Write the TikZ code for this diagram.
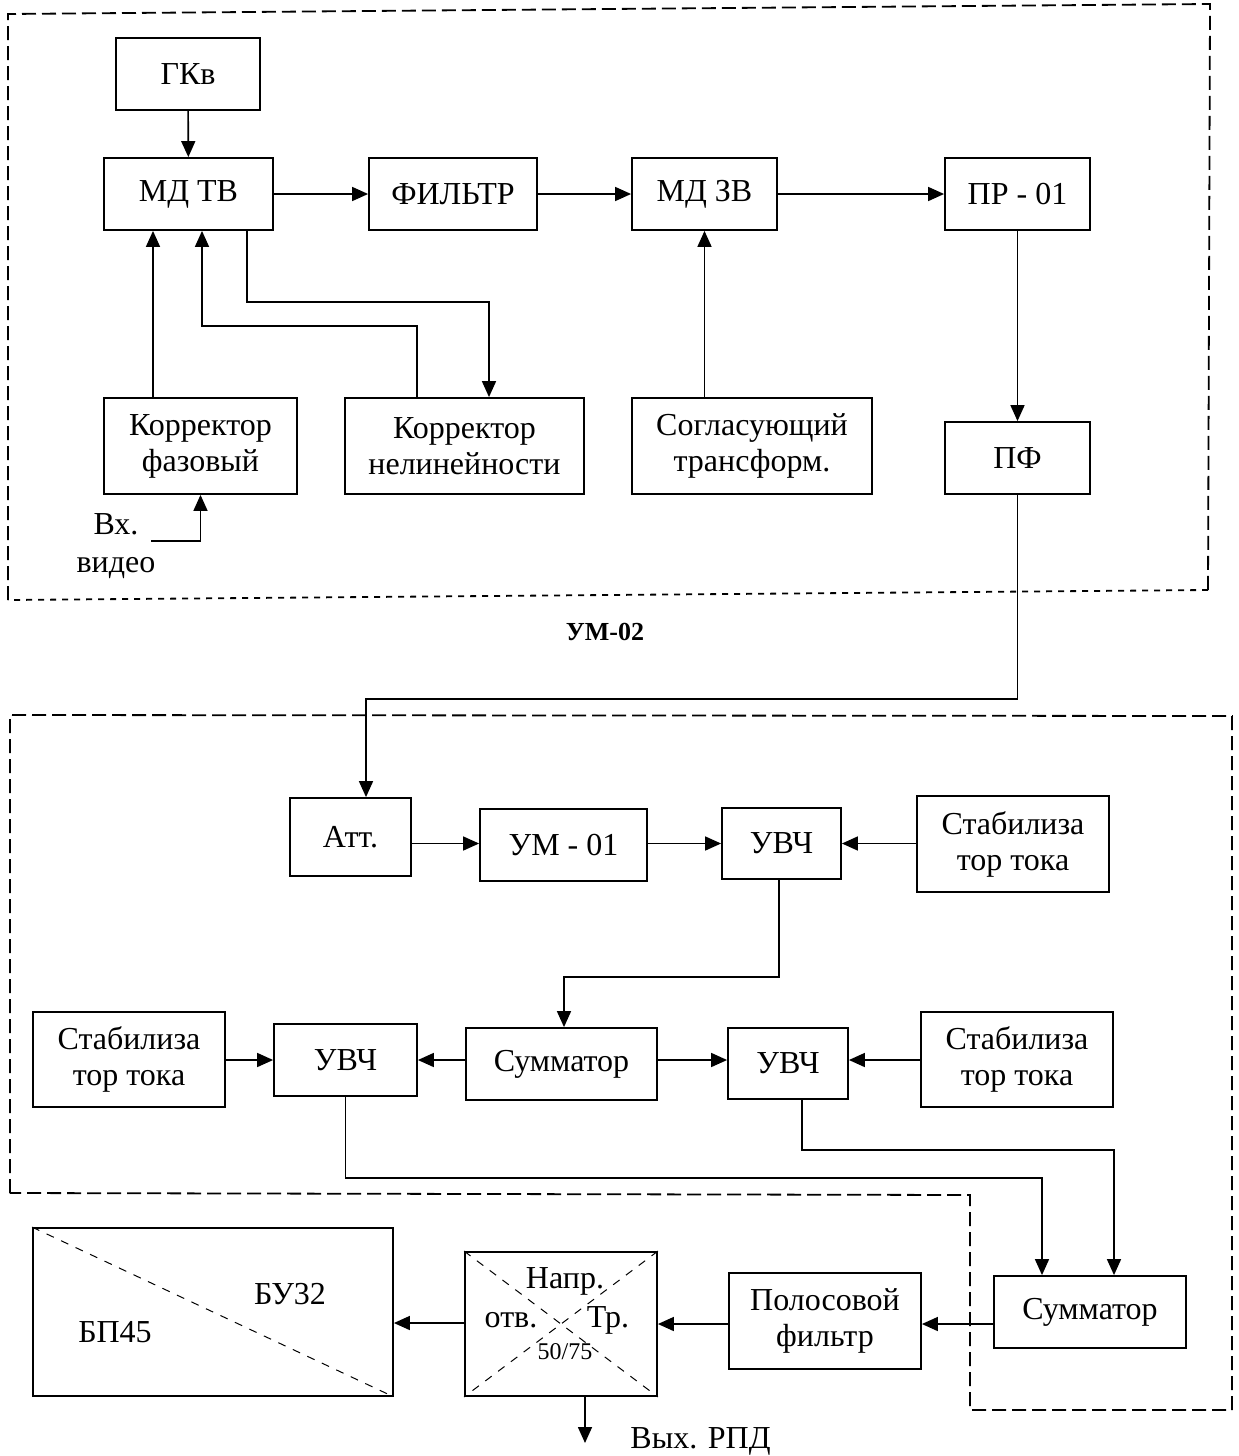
\documentclass[tikz,border=0pt]{standalone}
\usepackage{fontspec}
\setmainfont{Liberation Serif}
\usetikzlibrary{arrows.meta, positioning, calc}

\begin{document}
\begin{tikzpicture}[
    x=0.5pt, y=-0.5pt,
    font=\fontsize{16}{18}\selectfont,
    blk/.style={rectangle, draw=black, line width=0.9pt, align=center, inner sep=2pt,
      minimum width=72.5pt, minimum height=36pt},
    bigblk/.style={blk, minimum width=96pt, minimum height=48pt},
    frame/.style={draw=black, line width=0.9pt, dash pattern=on 7pt off 3pt},
    diag/.style={draw=black, line width=0.5pt, dash pattern=on 4pt off 4pt},
    arr/.style={-{Triangle[length=8pt, width=7pt]}, line width=0.8pt},
    lbl/.style={inner sep=0pt, align=center},
  ]
  \useasboundingbox (0,0) rectangle (1238,1456);

  % frames
  \draw[frame] (8,600) -- (8,14) -- (1210,4) -- (1208,590);
  \draw[frame, dash pattern=on 3pt off 3pt] (1208,590) -- (8,600);
  \draw[frame] (10,1193) -- (10,715) -- (1232,716) -- (1232,1410) -- (970,1410) -- (970,1195) -- cycle;
  \node[font=\fontsize{13}{15}\selectfont\bfseries] (um02) at (605,632) {УМ-02};

  % upper unit
  \node[blk, minimum width=72pt]    (gkv)    at (188,74)      {ГКв};
  \node[blk, minimum width=84.5pt]  (mdtv)   at (188.5,194)   {МД ТВ};
  \node[blk, minimum width=84pt]    (filtr)  at (453,194)     {ФИЛЬТР};
  \node[blk]                        (mdzv)   at (704.5,194)   {МД ЗВ};
  \node[blk]                        (pr01)   at (1017.5,194)  {ПР - 01};
  \node[bigblk, minimum width=96.5pt]  (korfaz) at (200.5,446) {Корректор\\фазовый};
  \node[bigblk, minimum width=119.5pt] (kornel) at (464.5,446) {Корректор\\нелинейности};
  \node[bigblk, minimum width=120pt]   (soglas) at (752,446)   {Согласующий\\трансформ.};
  \node[blk]                        (pf)     at (1017.5,458)  {ПФ};
  \node[lbl, font=\fontsize{16}{19}\selectfont] (vhod) at (116,546) {Вх.\\видео};
  \coordinate (vin) at (151,541);

  % lower unit
  \node[blk, minimum width=60.5pt, minimum height=39pt]   (att)   at (350.5,837)   {Атт.};
  \node[blk, minimum width=83.5pt]                        (um01)  at (563.5,845)   {УМ - 01};
  \node[blk, minimum width=59.5pt, minimum height=35.5pt] (uvch1) at (781.5,843.5) {УВЧ};
  \node[bigblk]                                           (stab1) at (1013,844)    {Стабилиза\\тор тока};
  \node[bigblk, minimum height=47.5pt]                    (stab2) at (129,1059.5)  {Стабилиза\\тор тока};
  \node[blk, minimum width=71.5pt]                        (uvch2) at (345.5,1060)  {УВЧ};
  \node[blk, minimum width=95.5pt]                        (summ1) at (561.5,1064)  {Сумматор};
  \node[blk, minimum width=60pt, minimum height=35.5pt]   (uvch3) at (788,1063.5)  {УВЧ};
  \node[bigblk, minimum height=47.5pt]                    (stab3) at (1017,1059.5) {Стабилиза\\тор тока};

  % output stage
  \node[blk, minimum width=96pt]                    (summ2) at (1090,1312) {Сумматор};
  \node[bigblk]                                     (polos) at (825,1321)  {Полосовой\\фильтр};
  \node[blk, minimum width=96pt, minimum height=72pt]  (napr) at (561,1324) {};
  \node[blk, minimum width=180pt, minimum height=84pt] (bp)   at (213,1312) {};
  \draw[diag] (napr.north west) -- (napr.south east) (napr.north east) -- (napr.south west);
  \draw[diag] (bp.north west) -- (bp.south east);
  \node[lbl] (naprt) at (565,1281) {Напр.};
  \node[lbl] (otv)   at (511,1320) {отв.};
  \node[lbl] (tr)    at (608,1320) {Тр.};
  \node[lbl, font=\fontsize{12}{14}\selectfont] (ratio) at (565,1352) {50/75};
  \node[lbl] (bu32)  at (290,1294) {БУ32};
  \node[lbl] (bp45)  at (115,1332) {БП45};
  \coordinate (out) at (585,1443);
  \node[lbl, anchor=west] (vyh) at (630,1441) {Вых. РПД};

  % connections
  \draw[arr] (gkv) -- (mdtv);
  \draw[arr] (mdtv) -- (filtr);
  \draw[arr] (filtr) -- (mdzv);
  \draw[arr] (mdzv) -- (pr01);
  \draw[arr] (korfaz.north -| 153,0) -- (mdtv.south -| 153,0);
  \draw[arr] (kornel.north -| 417,0) |- (202,326) -- (mdtv.south -| 202,0);
  \draw[arr] (mdtv.south -| 247,0) |- (489,302) -- (kornel.north -| 489,0);
  \draw[arr] (vin) -| (korfaz.south);
  \draw[arr] (soglas.north -| mdzv) -- (mdzv);
  \draw[arr] (pr01) -- (pf);
  \draw[arr] (pf.south) |- (366,699) -- (att.north -| 366,0);

  \draw[arr] (att.east |- uvch1) -- (um01.west |- uvch1);
  \draw[arr] (um01.east |- uvch1) -- (uvch1.west);
  \draw[arr] (stab1.west |- uvch1) -- (uvch1.east);
  \draw[arr] (uvch1.south -| 779,0) |- (564,977) -- (summ1.north -| 564,0);

  \draw[arr] (stab2.east |- uvch2) -- (uvch2.west);
  \draw[arr] (summ1.west |- uvch2) -- (uvch2.east);
  \draw[arr] (summ1.east |- uvch2) -- (uvch3.west |- uvch2);
  \draw[arr] (stab3.west |- uvch2) -- (uvch3.east |- uvch2);
  \draw[arr] (uvch2.south) |- (1042,1178) -- (summ2.north -| 1042,0);
  \draw[arr] (uvch3.south -| 802,0) |- (1114,1150) -- (summ2.north -| 1114,0);

  \draw[arr] (summ2.west |- 0,1324) -- (polos.east |- 0,1324);
  \draw[arr] (polos.west |- 0,1324) -- (napr.east |- 0,1324);
  \draw[arr] (napr.west |- 0,1323) -- (bp.east |- 0,1323);
  \draw[arr] (napr.south -| out) -- (out);
\end{tikzpicture}
\end{document}
